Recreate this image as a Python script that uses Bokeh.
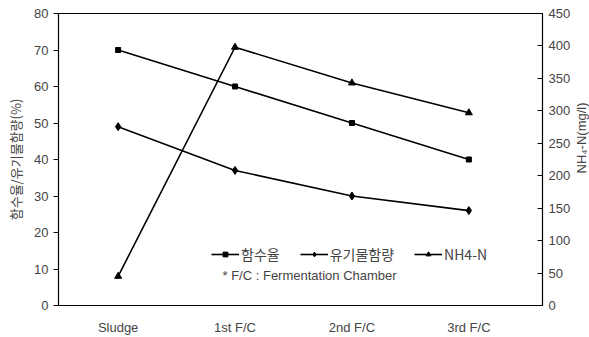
import math
from bokeh.plotting import figure
from bokeh.layouts import row
from bokeh.models import Range1d, LinearAxis, FixedTicker, Legend, LegendItem, Label
from bokeh.embed import file_html
from bokeh.resources import INLINE

categories = ["Sludge", "1st F/C", "2nd F/C", "3rd F/C"]
moisture = [70, 60, 50, 40]          # 함수율 (%)
organic = [49, 37, 30, 26]           # 유기물함량 (%)
nh4n = [45, 398, 343, 297]           # NH4-N (mg/l)
left_ticks = [0, 10, 20, 30, 40, 50, 60, 70, 80]
right_ticks = [0, 50, 100, 150, 200, 250, 300, 350, 400, 450]

x = list(range(len(categories)))
LAT = "Liberation Sans"
KR = "Noto Sans CJK KR"

p = figure(frame_width=484, frame_height=292, output_backend="svg", toolbar_location=None,
           x_range=Range1d(-0.51, 3.63), y_range=Range1d(0, 80),
           min_border_left=58, min_border_right=28, min_border_top=13, min_border_bottom=32)
p.extra_y_ranges = {"nh4": Range1d(0, 450)}
p.xgrid.visible = False
p.ygrid.visible = False
p.outline_line_color = "black"
p.outline_line_width = 1.2
p.background_fill_color = "white"
p.border_fill_color = "white"

p.xaxis.ticker = FixedTicker(ticks=x)
p.xaxis.major_label_overrides = {i: c for i, c in enumerate(categories)}
p.xaxis.major_tick_line_color = None
p.xaxis.minor_tick_line_color = None
p.xaxis.axis_line_color = "black"
p.xaxis.major_label_text_font = LAT
p.xaxis.major_label_text_font_size = "13px"
p.xaxis.major_label_standoff = 8

p.yaxis.ticker = FixedTicker(ticks=left_ticks)
p.yaxis.minor_tick_line_color = None
p.yaxis.major_tick_out = 5
p.yaxis.major_tick_in = 0
p.yaxis.major_label_text_font = LAT
p.yaxis.major_label_text_font_size = "13px"
p.yaxis.axis_label = "함수율/유기물함량(%)"
p.yaxis.axis_label_text_font = KR
p.yaxis.axis_label_text_font_style = "normal"
p.yaxis.axis_label_text_font_size = "13px"
p.yaxis.axis_label_standoff = 6

ra = LinearAxis(y_range_name="nh4", ticker=FixedTicker(ticks=right_ticks))
ra.minor_tick_line_color = None
ra.major_tick_out = 0
ra.major_tick_in = 5
ra.major_label_text_font = LAT
ra.major_label_text_font_size = "13px"
ra.major_label_standoff = 6
p.add_layout(ra, "right")

lw = 1.6
l1 = p.line(x, moisture, line_color="black", line_width=lw)
m1 = p.scatter(x, moisture, marker="square", size=5, color="black")
l2 = p.line(x, organic, line_color="black", line_width=lw)
m2 = p.scatter(x, organic, marker="diamond", size=8, color="black")
l3 = p.line(x, nh4n, line_color="black", line_width=lw, y_range_name="nh4")
m3 = p.scatter(x, nh4n, marker="triangle", size=7, color="black", y_range_name="nh4")

legend = Legend(items=[
    LegendItem(label="함수율", renderers=[l1, m1]),
    LegendItem(label="유기물함량", renderers=[l2, m2]),
    LegendItem(label="NH4-N", renderers=[l3, m3]),
], orientation="horizontal", location=(153, 41), border_line_color=None,
    background_fill_alpha=0, label_text_font=KR, label_text_font_size="14px",
    glyph_width=28, glyph_height=12, spacing=20, padding=2, margin=0, label_standoff=2)
p.add_layout(legend, "center")

p.add_layout(Label(x=164, y=30, x_units="screen", y_units="screen",
                   text="* F/C : Fermentation Chamber", text_font=LAT,
                   text_font_size="13px", text_baseline="middle"))

# narrow side panel holding the right-hand axis title (reads bottom to top)
side = figure(width=19, height=337, output_backend="svg", toolbar_location=None,
              x_range=Range1d(0, 1), y_range=Range1d(0, 1), min_border=0,
              x_axis_location=None, y_axis_location=None)
side.outline_line_color = None
side.xgrid.visible = False
side.ygrid.visible = False
side.add_layout(Label(x=8, y=132, x_units="screen", y_units="screen",
                      text="NH₄-N(mg/l)", text_font=LAT, text_font_size="13px",
                      angle=math.pi / 2, text_align="left", text_baseline="middle"))

layout = row(p, side, spacing=0)
html = file_html(layout, INLINE)
open("out.html", "w").write(html)
